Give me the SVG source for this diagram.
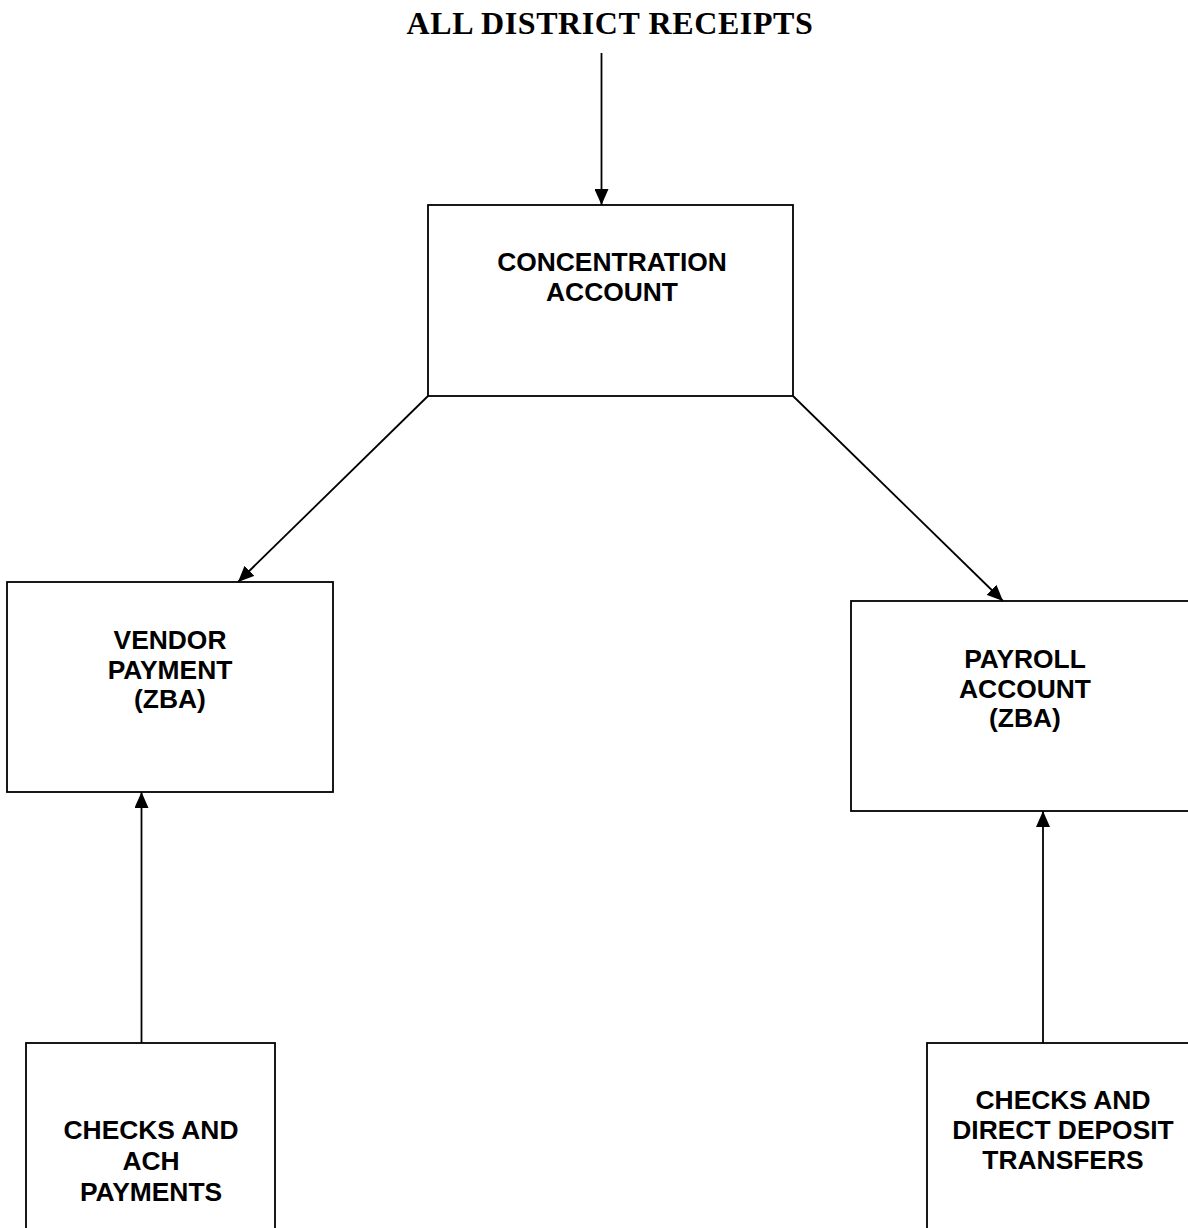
<svg xmlns="http://www.w3.org/2000/svg" width="1188" height="1228" viewBox="0 0 1188 1228">
<style>
.box{fill:#fff;stroke:#000;stroke-width:1.8}
.lbl{font-family:"Liberation Sans",Arial,sans-serif;font-weight:bold;font-size:26.4px;text-anchor:middle;fill:#000}
.title{font-family:"Liberation Serif","Times New Roman",serif;font-weight:bold;font-size:32px;letter-spacing:0.6px;text-anchor:middle;fill:#000}
.conn{stroke:#000;stroke-width:1.8;fill:none;marker-end:url(#arr)}
</style>
<defs>
<marker id="arr" markerUnits="userSpaceOnUse" markerWidth="16" markerHeight="14" viewBox="0 0 16 14" refX="16" refY="7" orient="auto">
<path d="M0,0 L16,7 L0,14 Z" fill="#000"/>
</marker>
</defs>
<rect width="1188" height="1228" fill="#fff"/>
<text class="title" x="610" y="34">ALL DISTRICT RECEIPTS</text>
<g id="concentration">
<rect class="box" x="428" y="205" width="365" height="191"/>
<text class="lbl" x="612" y="271">CONCENTRATION</text>
<text class="lbl" x="612" y="301">ACCOUNT</text>
</g>
<g id="vendor">
<rect class="box" x="7" y="582" width="326" height="210"/>
<text class="lbl" x="170" y="649">VENDOR</text>
<text class="lbl" x="170" y="679">PAYMENT</text>
<text class="lbl" x="170" y="708">(ZBA)</text>
</g>
<g id="payroll">
<rect class="box" x="851" y="601" width="350" height="210"/>
<text class="lbl" x="1025" y="668">PAYROLL</text>
<text class="lbl" x="1025" y="698">ACCOUNT</text>
<text class="lbl" x="1025" y="727">(ZBA)</text>
</g>
<g id="checks-ach">
<rect class="box" x="26" y="1043" width="249" height="200"/>
<text class="lbl" x="151" y="1139">CHECKS AND</text>
<text class="lbl" x="151" y="1170">ACH</text>
<text class="lbl" x="151" y="1201">PAYMENTS</text>
</g>
<g id="checks-dd">
<rect class="box" x="927" y="1043" width="272" height="200"/>
<text class="lbl" x="1063" y="1109">CHECKS AND</text>
<text class="lbl" x="1063" y="1139">DIRECT DEPOSIT</text>
<text class="lbl" x="1063" y="1169">TRANSFERS</text>
</g>
<g id="connectors">
<line class="conn" x1="601.5" y1="53" x2="601.5" y2="205"/>
<line class="conn" x1="428" y1="396" x2="238" y2="582"/>
<line class="conn" x1="793" y1="396" x2="1003" y2="601"/>
<line class="conn" x1="141.5" y1="1043" x2="141.5" y2="792"/>
<line class="conn" x1="1043" y1="1043" x2="1043" y2="811"/>
</g>
</svg>
